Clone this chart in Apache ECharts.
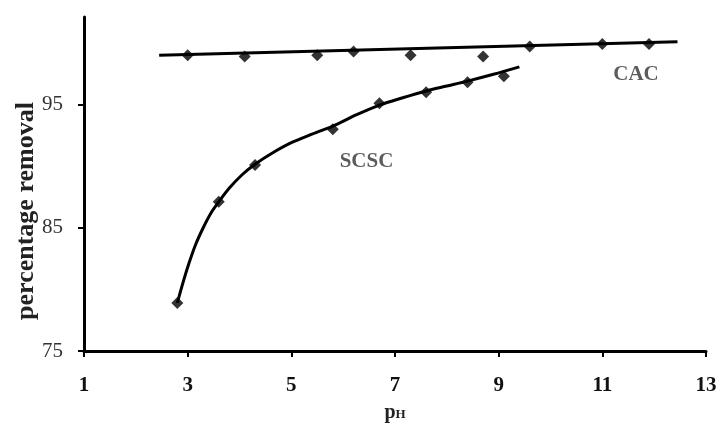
<!DOCTYPE html>
<html>
<head>
<meta charset="utf-8">
<script src="https://cdn.jsdelivr.net/npm/echarts@6/dist/echarts.min.js"></script>
<style>
  html, body { margin: 0; padding: 0; background: #fff; }
  #chart { width: 722px; height: 426px; }
</style>
</head>
<body>
<div id="chart"></div>
<script>
// Removal measured against pH for the two carbons
const phCAC = [3.0, 4.1, 5.5, 6.2, 7.3, 8.7, 9.6, 11.0, 11.9];
const removalCAC = [99.0, 98.9, 99.0, 99.3, 99.0, 98.9, 99.7, 99.9, 99.9];
const phSCSC = [2.8, 3.6, 4.3, 5.8, 6.7, 7.6, 8.4, 9.1];
const removalSCSC = [78.9, 87.1, 90.1, 93.0, 95.1, 96.0, 96.8, 97.3];

// Trend lines (pH, removal)
const trendCAC = [[2.45, 99.0], [12.45, 100.1]];
const trendSCSC = [
  [2.8, 78.9], [2.9, 80.4], [3.0, 81.8], [3.15, 83.6], [3.3, 85.0], [3.45, 86.2],
  [3.6, 87.1], [3.8, 88.2], [4.05, 89.3], [4.3, 90.15], [4.65, 91.1], [5.0, 91.9],
  [5.4, 92.6], [5.8, 93.25], [6.25, 94.15], [6.7, 94.95], [7.15, 95.55], [7.6, 96.1],
  [8.0, 96.5], [8.4, 96.9], [8.9, 97.45], [9.4, 98.05]
];

// Axis ticks
const xTicks = [1, 3, 5, 7, 9, 11, 13];
const yTicks = [75, 85, 95];

// Series names and where their tags sit (pH, removal)
const tagNames = ['CAC', 'SCSC'];
const tagAt = [[11.65, 97.4], [6.45, 90.4]];

const serif = '"Liberation Serif", "Times New Roman", serif';
const pairs = (xs, ys) => xs.map((x, i) => [x, ys[i]]);

const chart = echarts.init(document.getElementById('chart'));
chart.setOption({
  animation: false,
  backgroundColor: '#fff',
  grid: { left: 84, right: 16, top: 17, bottom: 75, containLabel: false, outerBoundsMode: 'none' },
  xAxis: {
    type: 'value',
    min: xTicks[0],
    max: xTicks[xTicks.length - 1],
    interval: 2,
    name: '{p|p}{h|H}',
    nameLocation: 'middle',
    nameGap: 52,
    nameTextStyle: {
      rich: {
        p: { fontFamily: serif, fontWeight: 'bold', fontSize: 20, color: '#222' },
        h: { fontFamily: serif, fontWeight: 'bold', fontSize: 13, color: '#222', verticalAlign: 'bottom', padding: [0, 0, 2, 0] }
      }
    },
    axisLine: { lineStyle: { color: '#000', width: 3 } },
    axisTick: { show: true, inside: false, length: 6, lineStyle: { color: '#000', width: 2 } },
    axisLabel: { margin: 24, fontFamily: serif, fontWeight: 'bold', fontSize: 21, color: '#111' },
    splitLine: { show: false }
  },
  yAxis: {
    type: 'value',
    min: yTicks[0],
    max: 102.1,
    interval: 10,
    axisLine: { show: true, lineStyle: { color: '#000', width: 3 } },
    axisTick: { show: true, inside: false, length: 6, customValues: yTicks, lineStyle: { color: '#000', width: 2 } },
    axisLabel: { margin: 21, fontFamily: serif, fontSize: 21, color: '#333', customValues: yTicks },
    splitLine: { show: false }
  },
  graphic: [{
    type: 'text',
    x: 26,
    y: 211,
    rotation: Math.PI / 2,
    style: {
      text: 'percentage removal',
      font: 'bold 26px ' + serif,
      fill: '#222',
      align: 'center',
      verticalAlign: 'middle'
    }
  }],
  series: [
    {
      name: 'CAC trend', type: 'line', data: trendCAC, showSymbol: false,
      lineStyle: { color: '#000', width: 3 }, z: 2
    },
    {
      name: 'SCSC trend', type: 'line', data: trendSCSC, showSymbol: false, smooth: 0.3,
      lineStyle: { color: '#000', width: 3 }, z: 2
    },
    {
      name: 'CAC', type: 'scatter', data: pairs(phCAC, removalCAC),
      symbol: 'diamond', symbolSize: 12, itemStyle: { color: '#000' }, z: 3
    },
    {
      name: 'SCSC', type: 'scatter', data: pairs(phSCSC, removalSCSC),
      symbol: 'diamond', symbolSize: 12, itemStyle: { color: '#000' }, z: 3
    },
    {
      name: 'tags', type: 'scatter', symbolSize: 1, itemStyle: { color: 'rgba(0,0,0,0)' },
      data: tagAt.map((p, i) => ({ value: p, name: tagNames[i] })),
      label: {
        show: true, position: 'inside', formatter: '{b}',
        fontFamily: serif, fontWeight: 'bold', fontSize: 21, color: '#333'
      },
      silent: true, z: 4
    }
  ]
});
</script>
</body>
</html>
